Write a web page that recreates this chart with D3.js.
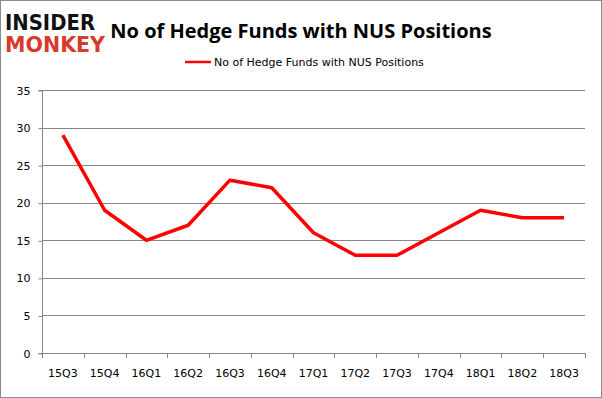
<!DOCTYPE html>
<html>
<head>
<meta charset="utf-8">
<script src="https://cdn.jsdelivr.net/npm/d3@7"></script>
<style>
  body { margin: 0; background: #fff; }
  svg { display: block; }
</style>
</head>
<body>
<div id="chart"></div>
<script>
// data
var quarters = ["15Q3", "15Q4", "16Q1", "16Q2", "16Q3", "16Q4", "17Q1", "17Q2", "17Q3", "17Q4", "18Q1", "18Q2", "18Q3"];
var fundCounts = [29, 19, 15, 17, 23, 22, 16, 13, 13, 16, 19, 18, 18];
var yTicks = [0, 5, 10, 15, 20, 25, 30, 35];
var seriesName = "No of Hedge Funds with NUS Positions";

var width = 602, height = 398;
var plotLeft = 42, plotRight = 585, plotTop = 90, plotBottom = 353;

var svg = d3.select("#chart").append("svg")
    .attr("width", width)
    .attr("height", height);

// outer frame
svg.append("rect")
    .attr("x", 0.5).attr("y", 0.5)
    .attr("width", width - 1).attr("height", height - 1)
    .attr("fill", "#fff")
    .attr("stroke", "#8c8c8c");

var x = d3.scaleBand().domain(quarters).range([plotLeft, plotRight]);
var y = d3.scaleLinear().domain([0, 35]).range([plotBottom, plotTop]);

// gridlines
svg.append("g").selectAll("line")
    .data(yTicks.filter(function (d) { return d > 0; }))
    .enter().append("line")
    .attr("x1", plotLeft).attr("x2", plotRight)
    .attr("y1", function (d) { return Math.round(y(d)) + 0.5; })
    .attr("y2", function (d) { return Math.round(y(d)) + 0.5; })
    .attr("stroke", "#868686");

// y axis
var yAxis = svg.append("g")
    .attr("transform", "translate(" + (plotLeft + 0.5) + ",0.5)")
    .call(d3.axisLeft(y).tickValues(yTicks).tickSize(4).tickPadding(8));
yAxis.select(".domain").attr("stroke", "#868686").attr("d", "M-4," + plotTop + "H0V" + plotBottom + "H-4");
yAxis.selectAll(".tick line").attr("stroke", "#868686");
yAxis.selectAll("text")
    .attr("font-family", "'DejaVu Sans', Verdana, sans-serif")
    .attr("font-size", 11)
    .attr("fill", "#000");

// x axis
var xAxis = svg.append("g")
    .attr("transform", "translate(0," + (plotBottom + 0.5) + ")")
    .call(d3.axisBottom(x).tickSize(0).tickPadding(16));
xAxis.select(".domain").attr("stroke", "#868686").attr("d", "M" + plotLeft + ",0H" + plotRight);
xAxis.selectAll("text")
    .attr("font-family", "'DejaVu Sans', Verdana, sans-serif")
    .attr("font-size", 11)
    .attr("fill", "#000");
// tick marks sit on the band edges
svg.append("g").selectAll("line")
    .data(quarters.concat(["end"]))
    .enter().append("line")
    .attr("x1", function (d, i) { return Math.round(plotLeft + i * x.step()) + 0.5; })
    .attr("x2", function (d, i) { return Math.round(plotLeft + i * x.step()) + 0.5; })
    .attr("y1", plotBottom).attr("y2", plotBottom + 5)
    .attr("stroke", "#868686");

// the line
var line = d3.line()
    .x(function (d, i) { return x(quarters[i]) + x.bandwidth() / 2; })
    .y(function (d) { return y(d); });

svg.append("path")
    .datum(fundCounts)
    .attr("d", line)
    .attr("fill", "none")
    .attr("stroke", "#ff0000")
    .attr("stroke-width", 3.5)
    .attr("stroke-linejoin", "round");

// title
svg.append("text")
    .attr("x", 301).attr("y", 38)
    .attr("text-anchor", "middle")
    .attr("font-family", "'Open Sans', 'DejaVu Sans', sans-serif")
    .attr("font-weight", "bold")
    .attr("font-size", 20)
    .text(seriesName);

// legend
svg.append("line")
    .attr("x1", 185).attr("x2", 211)
    .attr("y1", 62).attr("y2", 62)
    .attr("stroke", "#ff0000")
    .attr("stroke-width", 2.5);
svg.append("text")
    .attr("x", 214).attr("y", 66)
    .attr("font-family", "'DejaVu Sans', Verdana, sans-serif")
    .attr("font-size", 11)
    .attr("fill", "#000")
    .text(seriesName);

// logo
svg.append("text")
    .attr("x", 5).attr("y", 30)
    .attr("font-family", "'DejaVu Sans', sans-serif")
    .attr("font-weight", "bold")
    .attr("font-size", 21)
    .attr("textLength", 90)
    .attr("lengthAdjust", "spacingAndGlyphs")
    .attr("fill", "#111")
    .text("INSIDER");
svg.append("text")
    .attr("x", 5).attr("y", 52)
    .attr("font-family", "'DejaVu Sans', sans-serif")
    .attr("font-weight", "bold")
    .attr("font-size", 21)
    .attr("textLength", 100)
    .attr("lengthAdjust", "spacingAndGlyphs")
    .attr("fill", "#d63a2c")
    .text("MONKEY");
</script>
</body>
</html>
